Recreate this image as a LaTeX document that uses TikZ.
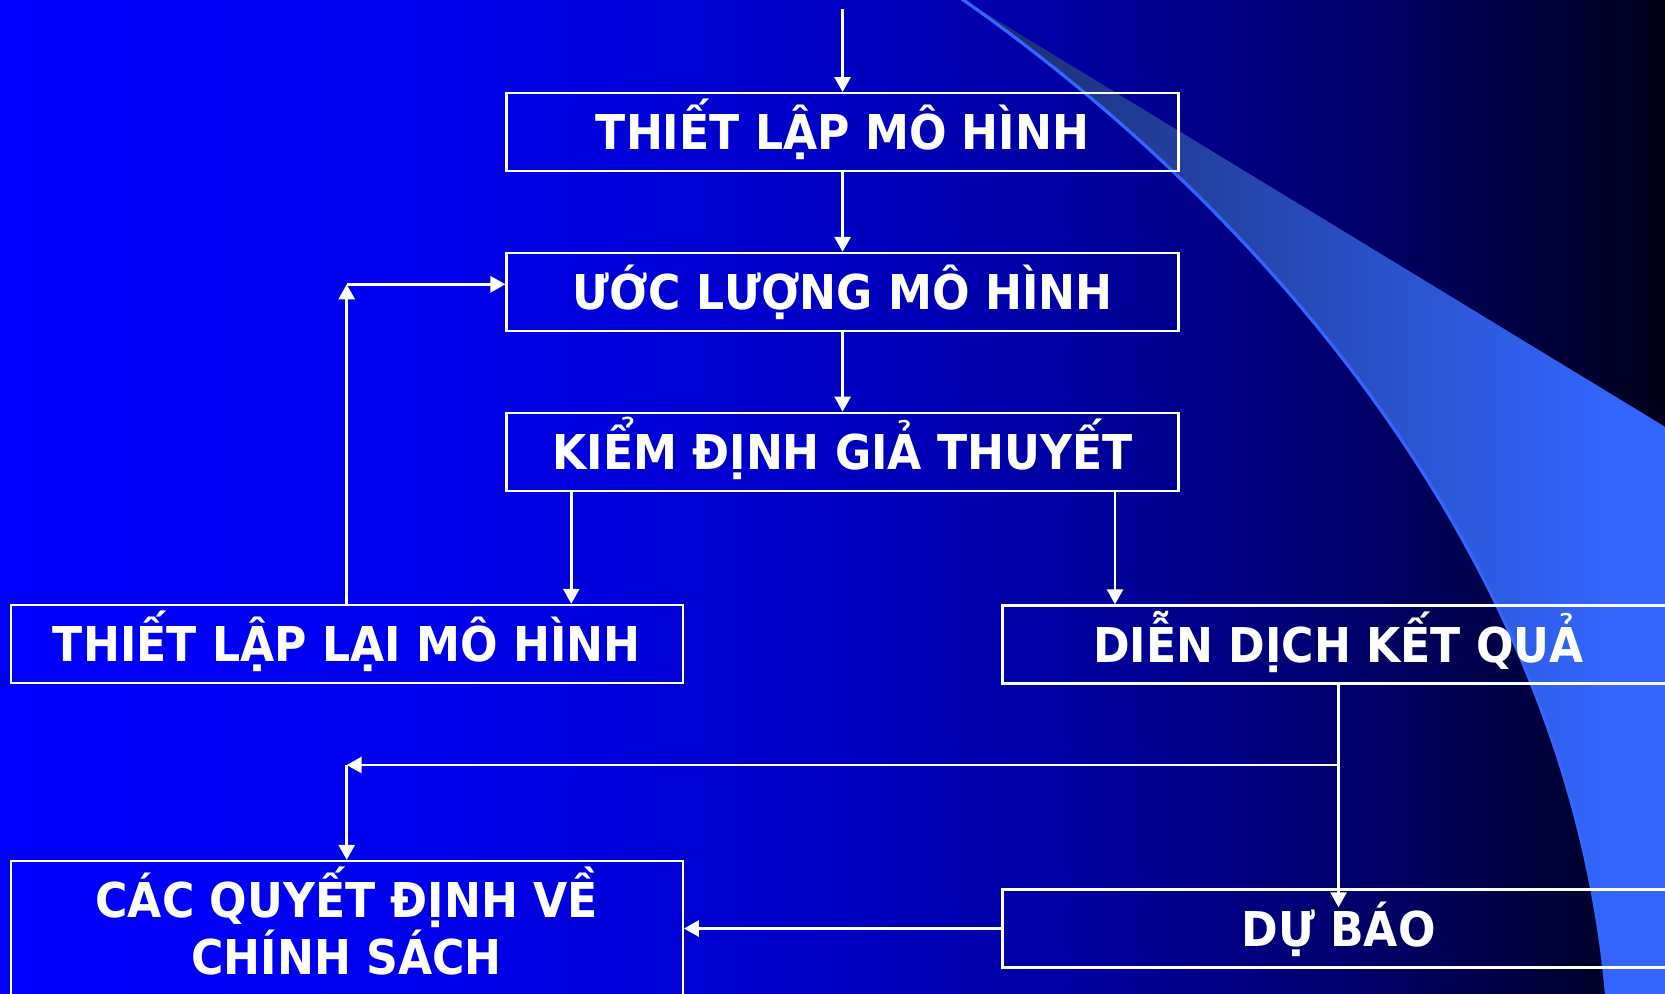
\documentclass[tikz,border=0pt]{standalone}
\usepackage{fontspec}
\usepackage{tikz}
\usetikzlibrary{arrows.meta,calc}
\newfontfamily\boxfont{DejaVu Sans}[FakeStretch=0.92]
\definecolor{swoosh}{RGB}{51,102,255}
\definecolor{swooshdark}{RGB}{26,44,110}
\definecolor{bga}{RGB}{0,0,255}
\definecolor{bgb}{RGB}{0,0,238}
\definecolor{bgc}{RGB}{0,0,200}
\definecolor{bgd}{RGB}{0,0,160}
\definecolor{bge}{RGB}{0,0,112}
\definecolor{bgf}{RGB}{0,0,64}
\definecolor{bgg}{RGB}{0,0,24}
\pgfdeclarehorizontalshading{bgfade}{100bp}{color(0bp)=(bga); color(25bp)=(bga);
  color(37.5bp)=(bgb); color(49.3bp)=(bgc); color(57.5bp)=(bgd); color(65bp)=(bge);
  color(71bp)=(bgf); color(75bp)=(bgg); color(100bp)=(bgg)}
\pgfdeclarehorizontalshading{swooshfade}{100bp}{color(0bp)=(swooshdark); color(25bp)=(swooshdark);
  color(70bp)=(swoosh); color(100bp)=(swoosh)}
\tikzset{stepbox/.style={draw=white,text=white,line width=1.2pt,minimum width=336pt,
  minimum height=39pt,inner sep=0pt,font=\boxfont\bfseries\fontsize{24}{28.85}\selectfont,
  text height=17.5pt,text depth=0pt}}
\newcommand{\stepnode}{\node[stepbox]}

\begin{document}
\begin{tikzpicture}[x=0.5pt,y=-0.5pt,>={Triangle[length=7.5pt,width=8pt]},line width=1.4pt,white]
  \useasboundingbox (0,0) rectangle (1665,993);
  \clip (0,0) rectangle (1665,993);
  \shade[shading=bgfade] (0,0) rectangle (1665,993); % background
  \shade[shading=swooshfade] (962,-1) .. controls (1262,209) and (1570,560) .. (1607,1000)
    -- (1690,1000) -- (1690,442) -- cycle;
  \draw[swoosh,line width=1.6pt] (962,-1) .. controls (1262,209) and (1570,560) .. (1607,1000);
  \stepnode (mohinh) at (842.6,132.2) {THIẾT LẬP MÔ HÌNH};
  \stepnode (uocluong) at (842.6,292) {ƯỚC LƯỢNG MÔ HÌNH};
  \stepnode (kiemdinh) at (842.6,451.8) {KIỂM ĐỊNH GIẢ THUYẾT};
  \stepnode (laplai) at (346.7,644) {THIẾT LẬP LẠI MÔ HÌNH};
  \stepnode (diendich) at (1338.5,644.5) {DIỄN DỊCH KẾT QUẢ};
  \stepnode[minimum height=67.5pt,align=center,text height=46.35pt] (chinhsach) at (346.7,928.5) {CÁC QUYẾT ĐỊNH VỀ\\CHÍNH SÁCH};
  \stepnode (dubao) at (1338.5,928.5) {DỰ BÁO};
  \coordinate (vao) at (842.6,9);
  \coordinate (xl) at (571.3,0);
  \coordinate (xr) at (1115,0);
  \coordinate (goc1) at (346.7,284.3); % feedback corner
  \coordinate (re) at (1338.5,765);
  \coordinate (goc2) at (346.7,765);
  \draw[->] (vao) -- (mohinh);
  \draw[->] (mohinh) -- (uocluong);
  \draw[->] (uocluong) -- (kiemdinh);
  \draw[->] (kiemdinh.south -| xl) -- (xl |- laplai.north);
  \draw[->] (kiemdinh.south -| xr) -- (xr |- diendich.north);
  \draw[->] (laplai.north) -- (goc1);
  \draw[->] (goc1) -- (goc1 -| uocluong.west);
  \draw[->] (diendich.south) -- ($(dubao.north)+(0,19)$);
  \draw[->] (re) -- (goc2);
  \draw[->] (goc2) -- (chinhsach.north);
  \draw[->] (dubao.west) -- (dubao.west -| chinhsach.east);
\end{tikzpicture}
\end{document}
